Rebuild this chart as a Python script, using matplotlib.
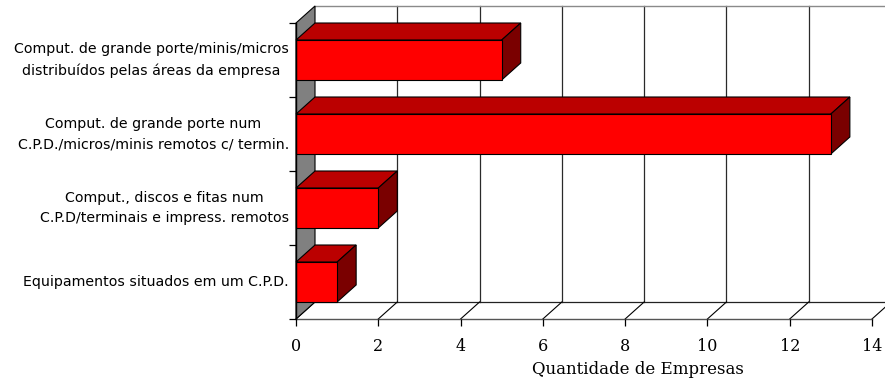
import matplotlib.pyplot as plt
from matplotlib.patches import Polygon

# categories listed bottom to top
categories = [
    "Equipamentos situados em um C.P.D.",
    "Comput., discos e fitas num\nC.P.D/terminais e impress. remotos",
    "Comput. de grande porte num\nC.P.D./micros/minis remotos c/ termin.",
    "Comput. de grande porte/minis/micros\ndistribuídos pelas áreas da empresa",
]
values = [1, 2, 13, 5]
xticks = [0, 2, 4, 6, 8, 10, 12, 14]
xlabel = "Quantidade de Empresas"

W, H = 885, 385
fig = plt.figure(figsize=(W / 100, H / 100), dpi=100)
ax = fig.add_axes([296 / W, 66 / H, 576 / W, 296 / H])
ax.set_xlim(0, 14)
ax.set_ylim(0, len(categories))
for s in ax.spines.values():
    s.set_visible(False)

# oblique depth offset in data units
dx, dy = 0.462, 0.23
xmax = xticks[-1]
n = len(categories)


def poly(pts, fc, ec="black", lw=0.8, z=1):
    ax.add_patch(Polygon(pts, closed=True, facecolor=fc, edgecolor=ec,
                         linewidth=lw, zorder=z, clip_on=False))


# back wall with vertical gridlines
poly([(dx, dy), (xmax + dx, dy), (xmax + dx, n + dy), (dx, n + dy)],
     "white", ec="none", z=0)
for x in xticks[1:]:
    ax.plot([x + dx, x + dx], [dy, n + dy], color="#2a2a2a", lw=0.9,
            zorder=0.5, clip_on=False)
ax.plot([dx, xmax + dx], [n + dy, n + dy], color="#8a8a8a", lw=1.0,
        zorder=0.5, clip_on=False)
ax.plot([dx, xmax + dx], [dy, dy], color="#222222", lw=0.9,
        zorder=0.5, clip_on=False)

# floor
for x in xticks:
    ax.plot([x, x + dx], [0, dy], color="black", lw=0.8, zorder=0.6,
            clip_on=False)
ax.plot([0, xmax], [0, 0], color="#555555", lw=1.0, zorder=0.6,
        clip_on=False)

# left wall
poly([(0, 0), (dx, dy), (dx, n + dy), (0, n)], "#808080", z=0.7)

# 3D bars
bh = 0.54
for i, v in enumerate(values):
    yc = i + 0.5
    y0, y1 = yc - bh / 2, yc + bh / 2
    poly([(0, y1), (v, y1), (v + dx, y1 + dy), (dx, y1 + dy)], "#BB0000", z=2)
    poly([(v, y0), (v, y1), (v + dx, y1 + dy), (v + dx, y0 + dy)],
         "#7A0000", z=2)
    poly([(0, y0), (v, y0), (v, y1), (0, y1)], "#FF0000", z=3)

# y axis: ticks at category boundaries, labels in between
ax.plot([0, 0], [0, n], color="black", lw=1.0, zorder=4, clip_on=False)
ax.set_yticks(range(n + 1))
ax.set_yticklabels([])
ax.set_yticks([i + 0.5 for i in range(n)], minor=True)
ax.set_yticklabels(categories, minor=True, fontsize=10.2,
                   family="DejaVu Sans", linespacing=1.6)
for t in ax.get_yticklabels(minor=True):
    t.set_multialignment("center")
    t.set_va("center")
ax.tick_params(axis="y", which="major", length=5, width=0.9, direction="out")
ax.tick_params(axis="y", which="minor", length=0, pad=5)

# x axis
ax.set_xticks(xticks)
ax.set_xticklabels([str(x) for x in xticks], family="DejaVu Serif",
                   fontsize=11.5)
ax.tick_params(axis="x", length=5, width=0.9, direction="out", pad=9)
ax.set_xlabel(xlabel, family="DejaVu Serif", fontsize=12)
ax.xaxis.label.set_va("center")
ax.xaxis.set_label_coords(0.594, -0.17)

fig.savefig("out.png", dpi=100)
